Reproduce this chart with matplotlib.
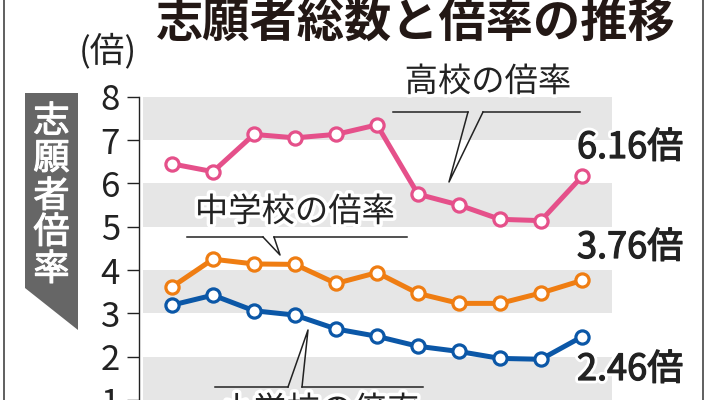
import matplotlib
matplotlib.use("Agg")
import matplotlib.pyplot as plt
import matplotlib.patheffects as pe
from matplotlib.lines import Line2D
from matplotlib.patches import Polygon

plt.rcParams['font.family'] = ['Noto Sans CJK JP', 'DejaVu Sans']

# === データ ===
years = list(range(11))
koukou = [6.45, 6.27, 7.13, 7.05, 7.13, 7.35, 5.75, 5.50, 5.17, 5.14, 6.16]
chugaku = [3.61, 4.25, 4.14, 4.13, 3.69, 3.94, 3.46, 3.23, 3.23, 3.47, 3.76]
shogaku = [3.19, 3.42, 3.06, 2.96, 2.64, 2.47, 2.24, 2.12, 1.96, 1.94, 2.46]
y_ticks = [1, 2, 3, 4, 5, 6, 7, 8]
end_labels = ["6.16倍", "3.76倍", "2.46倍"]

c_pink = "#E5508A"
c_orange = "#EF7D12"
c_blue = "#0B57A7"

W, H = 712, 400


def px(x, y):
    return (x / W, 1 - y / H)


fig = plt.figure(figsize=(W / 100, H / 100), dpi=100)
ax = fig.add_axes([143 / W, 0.0, (612 - 143) / W, 1 - 96.7 / H])
ax.set_xlim(-29 / 41, 10 + 30 / 41)
ax.set_ylim(1, 8)

# 背景の帯
for lo in [1, 3, 5, 7]:
    ax.axhspan(lo, lo + 1, color="#E6E6E6", lw=0, zorder=0)

for s in ["top", "right", "bottom"]:
    ax.spines[s].set_visible(False)
ax.spines["left"].set_position(("outward", 3))
ax.spines["left"].set_color("#222222")
ax.spines["left"].set_linewidth(1.0)
ax.set_xticks([])
ax.set_yticks(y_ticks)
ax.set_yticklabels([str(t) for t in y_ticks])
ax.tick_params(axis="y", direction="out", length=8.6, width=1.0, color="#222222",
               pad=5, labelsize=25, labelcolor="#222222")

# 折れ線
for vals, col in [(koukou, c_pink), (chugaku, c_orange), (shogaku, c_blue)]:
    ax.plot(years, vals, color=col, lw=3.6, marker="o", ms=9.5,
            mfc="white", mec=col, mew=2.3, zorder=3, clip_on=False)

halo = [pe.withStroke(linewidth=5, foreground="white")]
semibold = [pe.Stroke(linewidth=5, foreground="white"),
            pe.Stroke(linewidth=0.9, foreground="#222222"), pe.Normal()]

# 最終値ラベル
for lab, yy in zip(end_labels, [148, 248, 370]):
    fig.text(*px(577, yy), lab, fontsize=26, color="#222222",
             ha="left", va="center", path_effects=semibold)

# タイトル
fig.text(*px(416, 23), "志願者総数と倍率の推移", fontsize=34, fontweight="bold",
         color="#231815", ha="center", va="center")
fig.text(*px(108, 51), "(倍)", fontsize=25, color="#222222",
         ha="center", va="center")

# 左の帯ラベル
fig.add_artist(Polygon([px(25, 93), px(78, 93), px(78, 330), px(25, 288)],
                       closed=True, transform=fig.transFigure,
                       facecolor="#666666", edgecolor="none"))
for ch, yy in zip("志願者倍率", [122, 159, 197, 233, 270]):
    fig.text(*px(51.5, yy), ch, fontsize=26, color="white", ha="center", va="center",
             path_effects=[pe.withStroke(linewidth=0.8, foreground="white")])

# 枠線
for xx in [4, 703]:
    fig.add_artist(Line2D([xx / W, xx / W], [0, 1], transform=fig.transFigure,
                          color="#444444", lw=1.2))


def callout(text, tx, ty, line_y, x0, x1, a, b, tip):
    fig.text(*px(tx, ty), text, fontsize=24, color="#222222", ha="center",
             va="center", path_effects=halo, zorder=5)
    (lx0, ly), (lx1, _) = px(x0, line_y), px(x1, line_y)
    fig.add_artist(Line2D([lx0, px(a, 0)[0]], [ly, ly], transform=fig.transFigure,
                          color="#222222", lw=1.1))
    fig.add_artist(Line2D([px(b, 0)[0], lx1], [ly, ly], transform=fig.transFigure,
                          color="#222222", lw=1.1))
    p_a, p_b, p_t = px(a, line_y), px(b, line_y), px(*tip)
    fig.add_artist(Line2D([p_a[0], p_t[0], p_b[0]], [p_a[1], p_t[1], p_b[1]],
                          transform=fig.transFigure, color="#222222", lw=1.1))


callout("高校の倍率", 488, 82, 112, 393, 580, 468, 483, (449, 182))
callout("中学校の倍率", 295, 212, 237, 187, 407, 263, 274, (280, 255))
callout("小学校の倍率", 320, 411, 387, 215, 423, 288, 302, (308, 330))

fig.savefig("out.png", dpi=100)
